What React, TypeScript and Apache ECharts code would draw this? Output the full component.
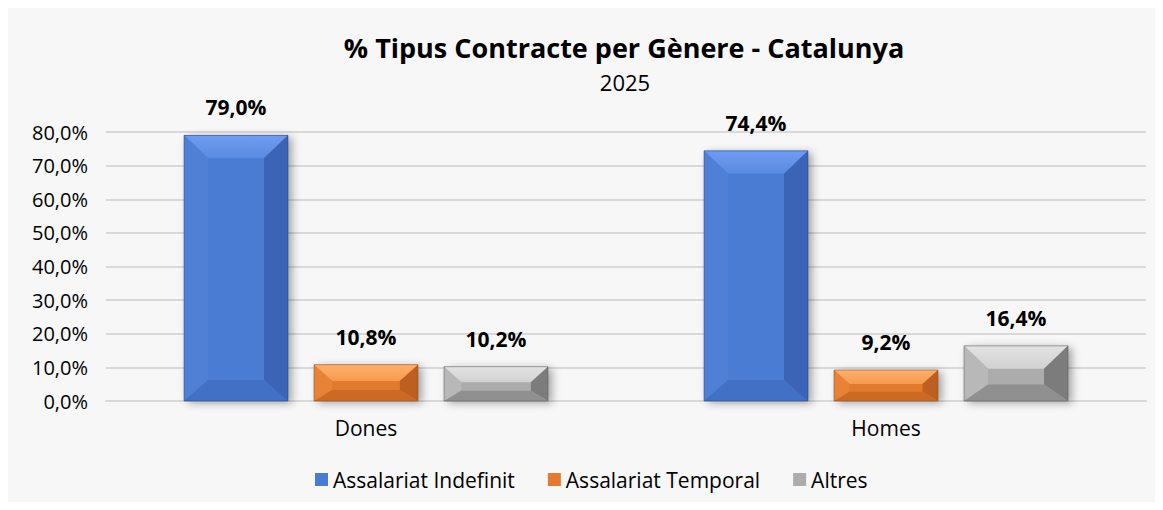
import React, { useEffect, useRef } from "react";
import * as echarts from "echarts";

const titleText = "% Tipus Contracte per Gènere - Catalunya";
const subtitleText = "2025";
const categories = ["Dones", "Homes"];
const seriesNames = ["Assalariat Indefinit", "Assalariat Temporal", "Altres"];
const indefinit = [79.0, 74.4];
const temporal = [10.8, 9.2];
const altres = [10.2, 16.4];
const seriesValues = [indefinit, temporal, altres];

const palettes = [
  { face: "#4a7bd2", top: "#6e9cf0", topIn: "#5a8ae0", left: "#5080d6", right: "#3b64b6", bottom: "#4170c4", edge: "#23407c" },
  { face: "#e27a2f", top: "#ffb06c", topIn: "#f59a4f", left: "#e88236", right: "#bc5f20", bottom: "#cc6a24", edge: "#8a4414" },
  { face: "#acacac", top: "#e2e2e2", topIn: "#d2d2d2", left: "#b8b8b8", right: "#7c7c7c", bottom: "#909090", edge: "#555555" },
];

const FONT = "'Open Sans', 'Noto Sans', sans-serif";
const fmt = (v: number) => v.toFixed(1).replace(".", ",") + "%";

export default function App() {
  const ref = useRef<HTMLDivElement>(null);
  useEffect(() => {
    if (!ref.current) return;
    const chart = echarts.init(ref.current, null, { renderer: "svg" });
    const series = seriesNames.map((name, si) => {
      const p = palettes[si];
      return {
        name,
        type: "custom",
        itemStyle: { color: p.face },
        encode: { x: 0, y: 1 },
        data: seriesValues[si].map((v, ci) => [ci, v]),
        renderItem: (params: any, api: any) => {
          const ci = api.value(0);
          const val = api.value(1);
          const base = api.coord([ci, 0]);
          const topP = api.coord([ci, val]);
          const band = api.size([1, 0])[0];
          const bw = band * 0.2;
          const gap = band * 0.05;
          const cx = base[0] + (si - 1) * (bw + gap);
          const x0 = cx - bw / 2;
          const x1 = cx + bw / 2;
          const y0 = topP[1];
          const y1 = base[1];
          const h = y1 - y0;
          const bt = Math.min(23, h * 0.45);
          const bb = Math.min(21, h * 0.3);
          const bx = Math.min(24, bw * 0.25, h * 0.5);
          return {
            type: "group",
            children: [
              {
                type: "rect",
                shape: { x: x0, y: y0, width: bw, height: h },
                style: {
                  fill: p.face,
                  shadowBlur: 8,
                  shadowOffsetX: 4,
                  shadowOffsetY: 2,
                  shadowColor: "rgba(0,0,0,0.35)",
                },
              },
              {
                type: "polygon",
                shape: { points: [[x0, y0], [x1, y0], [x1 - bx, y0 + bt], [x0 + bx, y0 + bt]] },
                style: {
                  fill: new echarts.graphic.LinearGradient(0, 0, 0, 1, [
                    { offset: 0, color: p.top },
                    { offset: 1, color: p.topIn },
                  ]),
                },
              },
              {
                type: "polygon",
                shape: { points: [[x0, y0], [x0 + bx, y0 + bt], [x0 + bx, y1 - bb], [x0, y1]] },
                style: { fill: p.left },
              },
              {
                type: "polygon",
                shape: { points: [[x1, y0], [x1, y1], [x1 - bx, y1 - bb], [x1 - bx, y0 + bt]] },
                style: { fill: p.right },
              },
              {
                type: "polygon",
                shape: { points: [[x0, y1], [x0 + bx, y1 - bb], [x1 - bx, y1 - bb], [x1, y1]] },
                style: { fill: p.bottom },
              },
              {
                type: "rect",
                shape: { x: x0, y: y0, width: bw, height: h },
                style: { fill: "none", stroke: p.edge, lineWidth: 1, opacity: 0.5 },
              },
              {
                type: "text",
                style: {
                  text: fmt(val),
                  x: cx,
                  y: y0 - 28,
                  align: "center",
                  verticalAlign: "middle",
                  fill: "#000",
                  font: `bold 21px ${FONT}`,
                },
              },
            ],
          };
        },
      };
    });
    chart.setOption({
      animation: false,
      backgroundColor: "#f7f7f7",
      graphic: [
        {
          type: "text",
          x: 616,
          y: 39,
          style: {
            text: titleText,
            align: "center",
            verticalAlign: "middle",
            fill: "#000",
            font: `bold 27px ${FONT}`,
            lineHeight: 27,
          },
        },
        {
          type: "text",
          x: 617,
          y: 74,
          style: {
            text: subtitleText,
            align: "center",
            verticalAlign: "middle",
            fill: "#000",
            font: `22px ${FONT}`,
            lineHeight: 22,
          },
        },
      ],
      legend: {
        data: seriesNames,
        left: 302,
        top: 456,
        icon: "rect",
        itemWidth: 13,
        itemHeight: 13,
        itemGap: 33,
        textStyle: { fontFamily: FONT, fontSize: 21, color: "#000" },
      },
      grid: { left: 98, right: 9, top: 124, bottom: 101 },
      xAxis: {
        type: "category",
        data: categories,
        axisLine: { show: true, lineStyle: { color: "#d9d9d9", width: 2 } },
        axisTick: { show: false },
        axisLabel: { fontFamily: FONT, fontSize: 21, color: "#000", margin: 16 },
      },
      yAxis: {
        type: "value",
        min: 0,
        max: 80,
        interval: 10,
        axisLine: { show: false },
        axisTick: { show: false },
        splitLine: { lineStyle: { color: "#d9d9d9", width: 2 } },
        axisLabel: {
          fontFamily: FONT,
          fontSize: 20,
          color: "#000",
          margin: 18,
          formatter: (v: number) => fmt(v),
        },
      },
      series,
    });
    return () => chart.dispose();
  }, []);
  return <div ref={ref} style={{ width: 1147, height: 494 }} />;
}
